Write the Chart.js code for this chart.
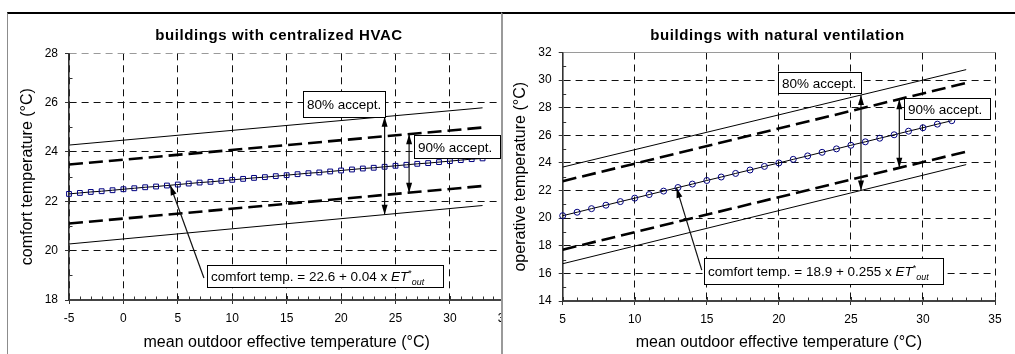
<!DOCTYPE html>
<html lang="en">
<head>
<meta charset="utf-8">
<title>Adaptive comfort models</title>
<script src="https://cdn.jsdelivr.net/npm/chart.js@4.4.1/dist/chart.umd.min.js"></script>
<style>
  html, body { margin: 0; padding: 0; background: #fff; }
  body { position: relative; width: 1015px; height: 354px; overflow: hidden; }
  .panel { position: absolute; top: 12px; height: 340px; border-top: 2px solid #000; }
  #panelHvac { left: 7px; width: 510px; border-left: 1px solid #8c8c8c; }
  #panelNat { left: 501px; width: 512px; border-left: 2px solid #9a9a9a; background: #fff; }
  canvas { display: block; }
</style>
</head>
<body>
<div class="panel" id="panelHvac"><canvas id="hvac" width="510" height="340"></canvas></div>
<div class="panel" id="panelNat"><canvas id="nat" width="512" height="340"></canvas></div>
<script>
const FONT = '"Liberation Sans", Arial, Helvetica, sans-serif';
Chart.defaults.font.family = FONT;
Chart.defaults.color = '#000';

// ---- buildings with centralized HVAC ----
const hvacET = [-5, -4, -3, -2, -1, 0, 1, 2, 3, 4, 5, 6, 7, 8, 9, 10, 11, 12, 13, 14, 15,
  16, 17, 18, 19, 20, 21, 22, 23, 24, 25, 26, 27, 28, 29, 30, 31, 32, 33];
const hvacComfort = [22.30, 22.34, 22.38, 22.41, 22.45, 22.49, 22.53, 22.57, 22.60, 22.64,
  22.68, 22.72, 22.76, 22.79, 22.83, 22.87, 22.91, 22.95, 22.98, 23.02,
  23.06, 23.10, 23.14, 23.17, 23.21, 23.25, 23.29, 23.33, 23.36, 23.40,
  23.44, 23.48, 23.52, 23.55, 23.59, 23.63, 23.67, 23.71, 23.74];
const hvacBandET = [-5, 33];
const hvacUpper80 = [24.28, 25.79];
const hvacLower80 = [20.27, 21.83];
const hvacUpper90 = [23.49, 24.99];
const hvacLower90 = [21.10, 22.62];
const hvacXTicks = [-5, 0, 5, 10, 15, 20, 25, 30, 35];
const hvacYTicks = [18, 20, 22, 24, 26, 28];

// ---- buildings with natural ventilation ----
const natET = [5, 6, 7, 8, 9, 10, 11, 12, 13, 14, 15, 16, 17, 18, 19, 20, 21, 22, 23, 24,
  25, 26, 27, 28, 29, 30, 31, 32];
const natComfort = [20.18, 20.43, 20.69, 20.94, 21.20, 21.45, 21.71, 21.96, 22.22, 22.47,
  22.73, 22.98, 23.24, 23.49, 23.75, 24.00, 24.26, 24.51, 24.77, 25.02,
  25.28, 25.53, 25.79, 26.04, 26.30, 26.55, 26.81, 27.06];
const natBandET = [5, 33];
const natUpper80 = [23.70, 30.76];
const natLower80 = [16.70, 23.88];
const natUpper90 = [22.68, 29.80];
const natLower90 = [17.72, 24.82];
const natXTicks = [5, 10, 15, 20, 25, 30, 35];
const natYTicks = [14, 16, 18, 20, 22, 24, 26, 28, 30, 32];

const pts = (xs, ys) => xs.map((x, i) => ({ x, y: ys[i] }));
function valueAt(xs, ys, x) {
  for (let i = 1; i < xs.length; i++) {
    if (x <= xs[i]) {
      const t = (x - xs[i - 1]) / (xs[i] - xs[i - 1]);
      return ys[i - 1] + t * (ys[i] - ys[i - 1]);
    }
  }
  return ys[ys.length - 1];
}

// bold panel heading
const panelTitle = {
  id: 'panelTitle',
  afterDraw(chart, args, o) {
    const ctx = chart.ctx;
    ctx.save();
    ctx.font = `bold ${o.size}px ${FONT}`;
    ctx.letterSpacing = o.spacing + 'px';
    ctx.fillStyle = '#000';
    ctx.textAlign = 'center';
    ctx.textBaseline = 'alphabetic';
    ctx.fillText(o.text, o.x, o.y);
    ctx.restore();
  }
};

// minor tick marks (inside) and the inner half of the major x ticks
const axisTicks = {
  id: 'axisTicks',
  afterDatasetsDraw(chart, args, o) {
    const { ctx, scales: { x, y } } = chart;
    const x0 = x.getPixelForValue(x.min);
    const yb = y.getPixelForValue(y.min);
    ctx.save();
    ctx.strokeStyle = o.color;
    ctx.lineWidth = 1;
    ctx.beginPath();
    for (let v = y.min; v <= y.max + 1e-9; v += o.yStep) {
      if (o.yMajor.includes(v)) continue;
      const py = Math.round(y.getPixelForValue(v)) + 0.5;
      ctx.moveTo(x0, py); ctx.lineTo(x0 + o.inner, py);
    }
    for (let v = x.min; v <= x.max + 1e-9; v += o.xStep) {
      const px = Math.round(x.getPixelForValue(v)) + 0.5;
      const len = o.xMajor.includes(v) ? o.innerMajor : o.inner;
      ctx.moveTo(px, yb); ctx.lineTo(px, yb - len);
    }
    ctx.stroke();
    ctx.restore();
  }
};

function arrowHead(ctx, x, y, ang) {
  const L = 10, W = 3;
  const c = Math.cos(ang), s = Math.sin(ang);
  ctx.beginPath();
  ctx.moveTo(x, y);
  ctx.lineTo(x - L * c - W * s, y - L * s + W * c);
  ctx.lineTo(x - L * c + W * s, y - L * s - W * c);
  ctx.closePath();
  ctx.fill();
}

function drawRuns(ctx, runs, x, baseline, size) {
  let cx = x;
  for (const r of runs) {
    const sz = r.small ? size * 0.66 : size;
    ctx.font = `${r.italic ? 'italic ' : ''}${sz}px ${FONT}`;
    const dy = r.sup ? -size * 0.38 : (r.sub ? size * 0.25 : 0);
    ctx.fillText(r.text, cx, baseline + dy);
    cx += ctx.measureText(r.text).width;
  }
}

// labelled boxes and arrows placed in data units
const callouts = {
  id: 'callouts',
  afterDatasetsDraw(chart, args, o) {
    const { ctx, scales: { x, y } } = chart;
    ctx.save();
    ctx.strokeStyle = '#111';
    ctx.fillStyle = '#000';
    ctx.lineWidth = 1.2;
    for (const a of o.arrows) {
      const x1 = x.getPixelForValue(a.from[0]), y1 = y.getPixelForValue(a.from[1]);
      const x2 = x.getPixelForValue(a.to[0]), y2 = y.getPixelForValue(a.to[1]);
      ctx.beginPath(); ctx.moveTo(x1, y1); ctx.lineTo(x2, y2); ctx.stroke();
      arrowHead(ctx, x2, y2, Math.atan2(y2 - y1, x2 - x1));
      if (a.both) arrowHead(ctx, x1, y1, Math.atan2(y1 - y2, x1 - x2));
    }
    for (const b of o.boxes) {
      const l = Math.round(x.getPixelForValue(b.x0)) + 0.5;
      const r = Math.round(x.getPixelForValue(b.x1)) + 0.5;
      const t = Math.round(y.getPixelForValue(b.y0)) + 0.5;
      const bt = Math.round(y.getPixelForValue(b.y1)) + 0.5;
      ctx.fillStyle = '#fff';
      ctx.fillRect(l, t, r - l, bt - t);
      ctx.strokeStyle = '#000';
      ctx.lineWidth = 1;
      ctx.strokeRect(l, t, r - l, bt - t);
      ctx.fillStyle = '#000';
      ctx.textBaseline = 'alphabetic';
      ctx.textAlign = 'left';
      drawRuns(ctx, b.runs, l + 3.5, (t + bt) / 2 + o.fontSize * 0.36, o.fontSize);
    }
    ctx.restore();
  }
};

function comfortRuns(a, b) {
  return [
    { text: `comfort temp. = ${a} + ${b} x ` },
    { text: 'ET', italic: true },
    { text: '*', small: true, sup: true },
    { text: 'out', small: true, sub: true, italic: true }
  ];
}

function bandSet(xs, ys, dashed) {
  return {
    data: pts(xs, ys), showLine: true, borderColor: '#000',
    borderWidth: dashed ? 2.6 : 1, borderDash: dashed ? [14, 6] : [],
    pointRadius: 0, fill: false
  };
}
function comfortSet(xs, ys, style, r) {
  return {
    data: pts(xs, ys), showLine: true, borderColor: '#000', borderWidth: 1,
    pointStyle: style, pointRadius: r, pointBorderColor: '#000080',
    pointBackgroundColor: 'rgba(0,0,0,0)', pointBorderWidth: 1, clip: false
  };
}

function buildChart(id, d) {
  const xMax = d.xTicks[d.xTicks.length - 1];
  const yMax = d.yTicks[d.yTicks.length - 1];
  return new Chart(document.getElementById(id), {
    type: 'scatter',
    data: {
      datasets: [
        comfortSet(d.et, d.comfort, d.marker, d.markerR),
        bandSet(d.bandET, d.upper80, false),
        bandSet(d.bandET, d.lower80, false),
        bandSet(d.bandET, d.upper90, true),
        bandSet(d.bandET, d.lower90, true)
      ]
    },
    options: {
      responsive: false,
      animation: false,
      devicePixelRatio: 1,
      events: [],
      layout: { padding: { left: 0, right: d.padRight, top: d.top, bottom: 0 } },
      scales: {
        x: {
          type: 'linear', min: d.xTicks[0], max: xMax,
          afterBuildTicks: s => { s.ticks = d.xTicks.map(v => ({ value: v })); },
          afterFit: s => { s.height = d.xHeight; },
          grid: { color: '#111', lineWidth: 1, tickLength: 4, tickColor: '#333', tickWidth: 1 },
          border: { display: true, color: '#444', width: 2, dash: [7, 5] },
          ticks: { font: { size: 12 }, color: '#000', padding: 7, maxRotation: 0, autoSkip: false },
          title: {
            display: true, text: 'mean outdoor effective temperature (°C)',
            font: { size: 16 }, color: '#000', padding: { top: 0, bottom: d.xTitlePad }
          }
        },
        y: {
          type: 'linear', min: d.yTicks[0], max: yMax,
          afterBuildTicks: s => { s.ticks = d.yTicks.map(v => ({ value: v })); },
          afterFit: s => { s.width = d.yWidth; },
          grid: {
            color: c => (c.tick && c.tick.value === yMax) ? '#9a9a9a' : '#111',
            lineWidth: 1, tickLength: 4, tickColor: '#333', tickWidth: 1
          },
          border: {
            display: true, color: '#333', width: 1.6,
            dash: c => (d.solidTop && c.tick && c.tick.value === yMax) ? [] : [7, 5]
          },
          ticks: { font: { size: 12 }, color: '#000', padding: 7, autoSkip: false },
          title: {
            display: true, text: d.yTitle,
            font: { size: 16 }, color: '#000', padding: { top: d.yTitlePad, bottom: 0 }
          }
        }
      },
      plugins: {
        legend: { display: false },
        tooltip: { enabled: false },
        title: { display: false },
        panelTitle: { text: d.title, x: d.titleX, y: 25.5, size: 15, spacing: 0.6 },
        axisTicks: {
          color: '#333', inner: 3.5, innerMajor: 4, xStep: 1, yStep: 1,
          xMajor: d.xTicks, yMajor: d.yTicks
        },
        callouts: Object.assign({ fontSize: 13.5 }, d.callouts)
      }
    },
    plugins: [panelTitle, axisTicks, callouts]
  });
}

buildChart('hvac', {
  title: 'buildings with centralized HVAC', titleX: 271,
  yTitle: 'comfort temperature (°C)',
  et: hvacET, comfort: hvacComfort, bandET: hvacBandET,
  upper80: hvacUpper80, lower80: hvacLower80, upper90: hvacUpper90, lower90: hvacLower90,
  xTicks: hvacXTicks, yTicks: hvacYTicks,
  marker: 'rect', markerR: 3.4,
  padRight: 13.6, top: 39.3, xHeight: 54, yWidth: 61,
  xTitlePad: 2, yTitlePad: 10.4, solidTop: false,
  callouts: {
    boxes: [
      { x0: 16.48, x1: 24.03, y0: 26.46, y1: 25.43, runs: [{ text: '80% accept.' }] },
      { x0: 26.74, x1: 34.64, y0: 24.67, y1: 23.75, runs: [{ text: '90% accept.' }] },
      { x0: 7.66, x1: 29.4, y0: 19.41, y1: 18.51, runs: comfortRuns('22.6', '0.04') }
    ],
    arrows: [
      { from: [24, valueAt(hvacBandET, hvacUpper80, 24)], to: [24, valueAt(hvacBandET, hvacLower80, 24)], both: true },
      { from: [26.25, valueAt(hvacBandET, hvacUpper90, 26.25)], to: [26.25, valueAt(hvacBandET, hvacLower90, 26.25)], both: true },
      { from: [7.4, 18.89], to: [4.3, valueAt(hvacET, hvacComfort, 4.3)], both: false }
    ]
  }
});

buildChart('nat', {
  title: 'buildings with natural ventilation', titleX: 274.5,
  yTitle: 'operative temperature (°C)',
  et: natET, comfort: natComfort, bandET: natBandET,
  upper80: natUpper80, lower80: natLower80, upper90: natUpper90, lower90: natLower90,
  xTicks: natXTicks, yTicks: natYTicks,
  marker: 'circle', markerR: 3,
  padRight: 20, top: 38.5, xHeight: 53, yWidth: 59.7,
  xTitlePad: 2, yTitlePad: 8.4, solidTop: true,
  callouts: {
    boxes: [
      { x0: 19.92, x1: 25.72, y0: 30.59, y1: 29.07, runs: [{ text: '80% accept.' }] },
      { x0: 28.69, x1: 34.65, y0: 28.67, y1: 27.15, runs: [{ text: '90% accept.' }] },
      { x0: 14.8, x1: 31.41, y0: 17.09, y1: 15.21, runs: comfortRuns('18.9', '0.255') }
    ],
    arrows: [
      { from: [25.7, valueAt(natBandET, natUpper80, 25.7)], to: [25.7, valueAt(natBandET, natLower80, 25.7)], both: true },
      { from: [28.36, valueAt(natBandET, natUpper90, 28.36)], to: [28.36, valueAt(natBandET, natLower90, 28.36)], both: true },
      { from: [14.65, 16.24], to: [12.9, valueAt(natET, natComfort, 12.9)], both: false }
    ]
  }
});
</script>
</body>
</html>
